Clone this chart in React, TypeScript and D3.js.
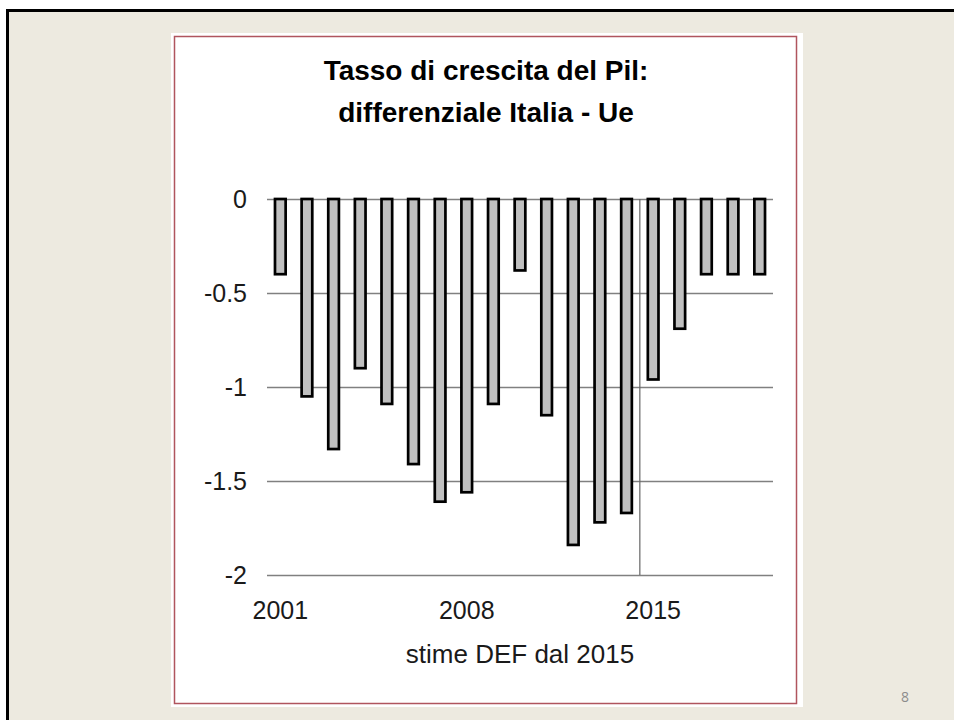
import * as d3 from "d3";
import { useEffect, useRef } from "react";

// GDP growth differential Italy - EU, 2001-2019 (DEF estimates from 2015)
const years = d3.range(2001, 2020).map(String);
const differential = [
  -0.4, -1.05, -1.33, -0.9, -1.09, -1.41, -1.61, -1.56, -1.09, -0.38,
  -1.15, -1.84, -1.72, -1.67, -0.96, -0.69, -0.4, -0.4, -0.4,
];
const yTicks = [0, -0.5, -1, -1.5, -2];
const xTickLabels = ["2001", "2008", "2015"];
const estimateStart = "2015";
const titleLines = ["Tasso di crescita del Pil:", "differenziale Italia - Ue"];
const xAxisTitle = "stime DEF dal 2015";

const App = () => {
  const svgRef = useRef<SVGSVGElement>(null);

  useEffect(() => {
    const svg = d3.select(svgRef.current);
    svg.selectAll("*").remove();

    const W = 954;
    const H = 720;
    const font = "'Liberation Sans', Arial, sans-serif";

    // slide background + border
    svg.append("rect").attr("width", W).attr("height", H).attr("fill", "#ffffff");
    svg
      .append("rect")
      .attr("x", 7.5)
      .attr("y", 10.5)
      .attr("width", W + 20)
      .attr("height", H + 20)
      .attr("fill", "#edeae0")
      .attr("stroke", "#000")
      .attr("stroke-width", 3);

    // chart panel
    svg
      .append("rect")
      .attr("x", 171)
      .attr("y", 33)
      .attr("width", 632)
      .attr("height", 674)
      .attr("fill", "#fff");
    svg
      .append("rect")
      .attr("x", 174.5)
      .attr("y", 36.5)
      .attr("width", 622)
      .attr("height", 667)
      .attr("fill", "none")
      .attr("stroke", "#b0555e")
      .attr("stroke-width", 1.5);

    const x = d3
      .scaleBand()
      .domain(years)
      .range([267, 773])
      .paddingInner(0.6)
      .paddingOuter(0.3);

    const y = d3.scaleLinear().domain([-2, 0]).range([575, 199]);

    // gridlines
    svg
      .append("g")
      .selectAll("line")
      .data(yTicks)
      .enter()
      .append("line")
      .attr("x1", 267)
      .attr("x2", 773)
      .attr("y1", (d) => y(d) + 0.5)
      .attr("y2", (d) => y(d) + 0.5)
      .attr("stroke", "#808080")
      .attr("stroke-width", 1.3);

    // separator before estimates
    const sepX = (x(estimateStart) || 0) - (x.step() - x.bandwidth()) / 2;
    svg
      .append("line")
      .attr("x1", sepX)
      .attr("x2", sepX)
      .attr("y1", y(0))
      .attr("y2", y(-2))
      .attr("stroke", "#666")
      .attr("stroke-width", 1.2);

    // bars
    svg
      .append("g")
      .selectAll("rect")
      .data(differential)
      .enter()
      .append("rect")
      .attr("x", (d, i) => x(years[i]) || 0)
      .attr("y", y(0))
      .attr("width", x.bandwidth())
      .attr("height", (d) => y(d) - y(0))
      .attr("fill", "#c0c0c0")
      .attr("stroke", "#000")
      .attr("stroke-width", 2.7);

    // y tick labels
    svg
      .append("g")
      .selectAll("text")
      .data(yTicks)
      .enter()
      .append("text")
      .attr("x", 247)
      .attr("y", (d) => y(d))
      .attr("dy", "0.35em")
      .attr("text-anchor", "end")
      .style("font-family", font)
      .style("font-size", "25px")
      .style("fill", "#1a1a1a")
      .text((d) => d3.format("")(d).replace("−", "-"));

    // x tick labels
    svg
      .append("g")
      .selectAll("text")
      .data(xTickLabels)
      .enter()
      .append("text")
      .attr("x", (d) => (x(d) || 0) + x.bandwidth() / 2)
      .attr("y", 619)
      .attr("text-anchor", "middle")
      .style("font-family", font)
      .style("font-size", "25px")
      .style("fill", "#1a1a1a")
      .text((d) => d);

    svg
      .append("text")
      .attr("x", 520)
      .attr("y", 663)
      .attr("text-anchor", "middle")
      .style("font-family", font)
      .style("font-size", "26px")
      .style("fill", "#1a1a1a")
      .text(xAxisTitle);

    // title
    svg
      .append("g")
      .selectAll("text")
      .data(titleLines)
      .enter()
      .append("text")
      .attr("x", 486)
      .attr("y", (d, i) => 80 + i * 41.5)
      .attr("text-anchor", "middle")
      .style("font-family", font)
      .style("font-size", "28px")
      .style("font-weight", "bold")
      .style("fill", "#000")
      .text((d) => d);

    // slide number
    svg
      .append("text")
      .attr("x", 905)
      .attr("y", 702)
      .attr("text-anchor", "middle")
      .style("font-family", "'Open Sans', sans-serif")
      .style("font-size", "14px")
      .style("fill", "#8c8c8c")
      .text("8");
  }, []);

  return (
    <div style={{ position: "fixed", left: 0, top: 0 }}>
      <svg ref={svgRef} width={954} height={720} style={{ display: "block" }}></svg>
    </div>
  );
};

export default App;
